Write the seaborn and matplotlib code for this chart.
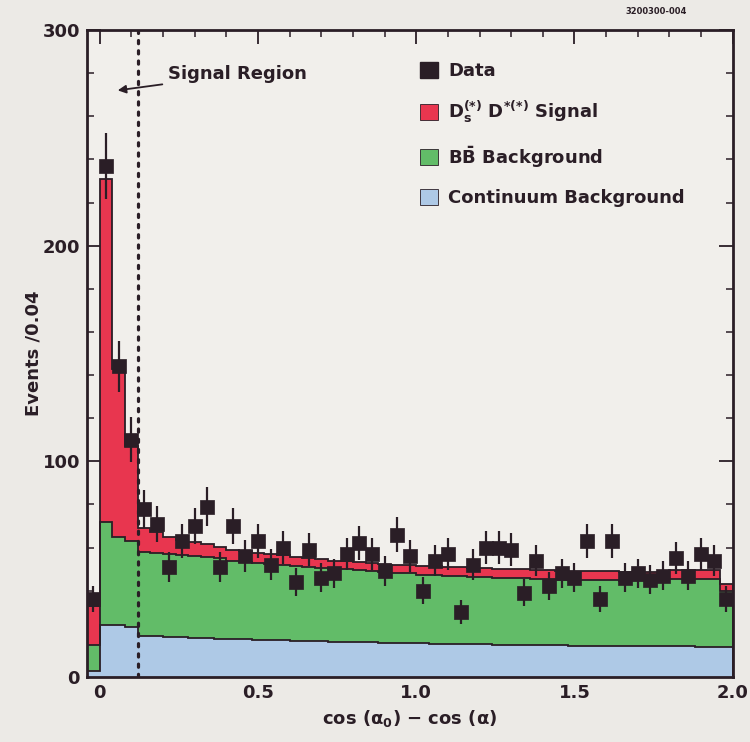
import numpy as np
import pandas as pd
import matplotlib
matplotlib.use("Agg")
import matplotlib.pyplot as plt
import seaborn as sns
from matplotlib.patches import Patch
from matplotlib.ticker import MultipleLocator, FuncFormatter

# Bin layout: 0.04-wide bins from -0.04 to 2.0
bin_edges = np.linspace(-0.04, 2.0, 52)
bin_centers = 0.5 * (bin_edges[:-1] + bin_edges[1:])

# Observed events per bin
data_counts = [
    36, 237, 144, 110, 78, 71, 51, 63, 70, 79,
    51, 70, 56, 63, 52, 60, 44, 59, 46, 48,
    57, 62, 57, 49, 66, 56, 40, 54, 57, 30,
    52, 60, 60, 59, 39, 54, 42, 48, 46, 63,
    36, 63, 46, 48, 45, 47, 55, 47, 57, 54,
    36,
]

# Fit components per bin
continuum_bkg = [
    3, 24, 24, 23, 19.0, 18.8, 18.6, 18.4, 18.2, 18.0,
    17.8, 17.6, 17.4, 17.3, 17.1, 17.0, 16.8, 16.7, 16.5, 16.4,
    16.3, 16.2, 16.0, 15.9, 15.8, 15.7, 15.6, 15.5, 15.4, 15.3,
    15.2, 15.1, 15.0, 15.0, 14.9, 14.8, 14.8, 14.7, 14.6, 14.6,
    14.5, 14.5, 14.4, 14.4, 14.3, 14.3, 14.2, 14.2, 14.1, 14.1,
    14.0,
]
bbbar_bkg = [
    12, 48, 41, 40, 39.0, 38.7, 38.4, 38.1, 37.8, 37.5,
    37.2, 36.4, 36.1, 35.7, 35.4, 35.0, 34.7, 34.3, 34.0, 33.6,
    33.7, 33.3, 33.0, 32.6, 32.2, 32.3, 31.9, 32.0, 31.6, 31.7,
    31.3, 31.4, 31.0, 31.0, 31.1, 30.7, 30.7, 30.3, 30.4, 30.4,
    30.5, 30.5, 30.1, 30.1, 30.2, 30.2, 31.3, 31.3, 31.4, 31.4,
    26.0,
]
signal = [
    18, 159, 78, 44, 11, 9.5, 8, 7, 6.5, 6,
    5.5, 5, 4.8, 4.6, 4.5, 4.4, 4.3, 4.2, 4.1, 4.0,
    4.0, 4.0, 4.0, 4.0, 4.0, 4.0, 4.0, 4.0, 4.0, 4.0,
    4.0, 4.0, 4.0, 4.0, 4.0, 4.0, 4.0, 4.0, 4.0, 4.0,
    4.0, 4.0, 4.0, 4.0, 4.0, 4.0, 4.0, 4.0, 4.0, 4.0,
    3.0,
]

signal_region_edge = 0.12

BG = "#ECEAE6"
AX_BG = "#F1EFEB"
DARK = "#2A1E26"
RED = "#E8364F"
GREEN = "#62BC68"
BLUE = "#AEC9E6"

sns.set_theme(style="ticks")
plt.rcParams["font.family"] = ["DejaVu Sans"]
plt.rcParams["font.weight"] = "bold"
plt.rcParams["axes.labelweight"] = "bold"
plt.rcParams["mathtext.fontset"] = "custom"
plt.rcParams["mathtext.rm"] = "DejaVu Sans:bold"
plt.rcParams["mathtext.bf"] = "DejaVu Sans:bold"
plt.rcParams["mathtext.it"] = "DejaVu Sans:bold"
plt.rcParams["mathtext.sf"] = "DejaVu Sans:bold"

fig = plt.figure(figsize=(7.5, 7.42), dpi=100, facecolor=BG)
ax = fig.add_axes([0.116, 0.0876, 0.861, 0.872])
ax.set_facecolor(AX_BG)

cont = np.array(continuum_bkg)
bb_top = cont + np.array(bbbar_bkg)
total = bb_top + np.array(signal)

df = pd.DataFrame({"x": bin_centers, "total": total, "bb": bb_top, "cont": cont})

# Stacked fit components, drawn from the outermost layer inward
for col_name, col in [("total", RED), ("bb", GREEN), ("cont", BLUE)]:
    sns.histplot(data=df, x="x", weights=col_name, bins=list(bin_edges), element="step",
                 fill=True, color=col, alpha=1, linewidth=0, ax=ax, zorder=1)
    ax.stairs(df[col_name].to_numpy(), bin_edges, color=DARK, linewidth=1.3, zorder=2)

# Signal region boundary
ax.axvline(signal_region_edge, color=DARK, linestyle=(0, (1, 2.2)), linewidth=2.3,
           dash_capstyle="round", zorder=3)

# Data with Poisson errors
ax.errorbar(bin_centers, data_counts, yerr=np.sqrt(data_counts), fmt="none",
            ecolor=DARK, elinewidth=1.6, capsize=0, zorder=4)
sns.scatterplot(x=bin_centers, y=data_counts, marker="s", s=115, color=DARK,
                edgecolor=DARK, linewidth=0.5, legend=False, ax=ax, zorder=5)

ax.set_xlim(-0.04, 2.0)
ax.set_ylim(0, 300)
ax.xaxis.set_major_locator(MultipleLocator(0.5))
ax.xaxis.set_minor_locator(MultipleLocator(0.1))
ax.yaxis.set_major_locator(MultipleLocator(100))
ax.yaxis.set_minor_locator(MultipleLocator(20))
ax.xaxis.set_major_formatter(FuncFormatter(lambda v, p: "0" if abs(v) < 1e-9 else f"{v:.1f}"))
ax.yaxis.set_major_formatter(FuncFormatter(lambda v, p: f"{v:.0f}"))
ax.tick_params(which="both", direction="in", top=True, right=True,
               color=DARK, labelcolor=DARK, labelsize=13)
ax.tick_params(which="major", length=10, width=1.3, pad=5)
ax.tick_params(which="minor", length=5, width=1.1)
for sp in ax.spines.values():
    sp.set_color(DARK)
    sp.set_linewidth(2.0)

ax.set_xlabel(r"cos (α$_0$) − cos (α)", fontsize=13, fontweight="bold", color=DARK, labelpad=4)
ax.set_ylabel("Events /0.04", fontsize=13, fontweight="bold", color=DARK, labelpad=0)

ax.annotate("Signal Region", xy=(0.057, 272), xytext=(0.217, 279.5),
            fontsize=13, fontweight="bold", color=DARK, ha="left", va="center",
            arrowprops=dict(arrowstyle="-|>", color=DARK, lw=1.3,
                            shrinkA=2, shrinkB=0, mutation_scale=12))

handles = [
    Patch(facecolor=DARK, edgecolor=DARK),
    Patch(facecolor=RED, edgecolor=DARK, linewidth=0.6),
    Patch(facecolor=GREEN, edgecolor=DARK, linewidth=0.6),
    Patch(facecolor=BLUE, edgecolor=DARK, linewidth=0.6),
]
labels = [
    "Data",
    r"D$_s^{(*)}$ D$^{*(*)}$ Signal",
    r"B$\bar{\mathrm{B}}$ Background",
    "Continuum Background",
]
leg = ax.legend(handles, labels, loc="upper left", bbox_to_anchor=(0.515, 0.951),
                frameon=False, fontsize=13, handlelength=1.0, handleheight=1.0,
                handletextpad=0.6, labelspacing=1.05, borderpad=0, borderaxespad=0)
for t in leg.get_texts():
    t.set_color(DARK)

fig.text(0.875, 0.985, "3200300-004", fontsize=6, color=DARK, ha="center", va="center")

fig.savefig("out.png", dpi=100, facecolor=BG)
